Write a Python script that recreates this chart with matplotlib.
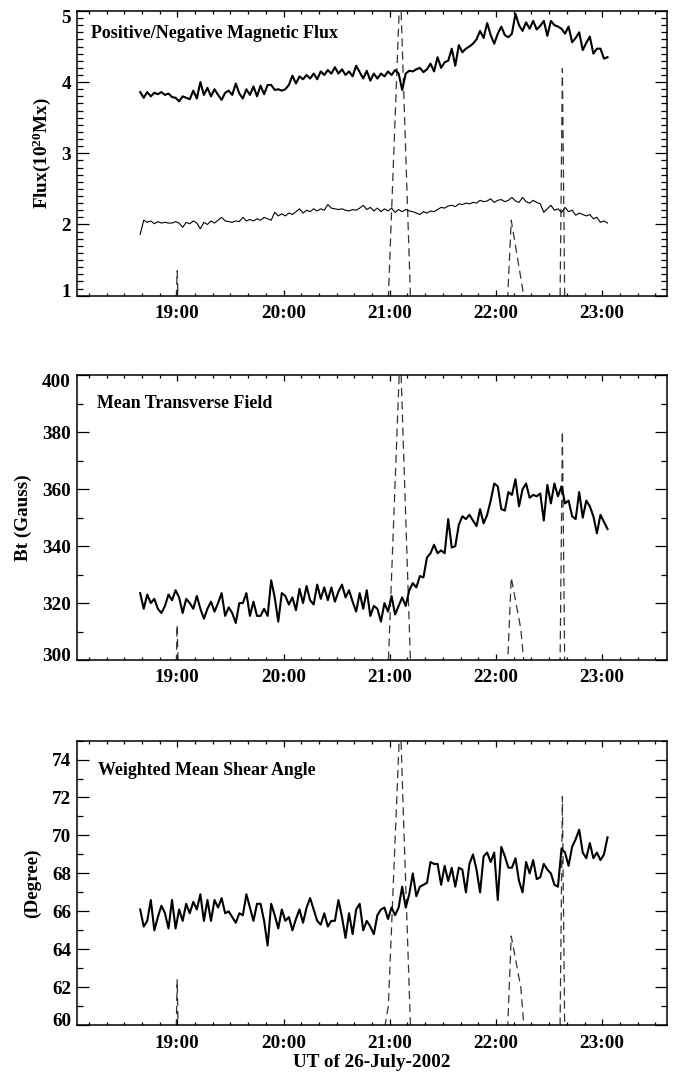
import numpy as np
import matplotlib
matplotlib.use('Agg')
import matplotlib.pyplot as plt
from matplotlib.ticker import MultipleLocator
from matplotlib.transforms import ScaledTranslation

plt.rcParams['font.family'] = ['Liberation Serif', 'DejaVu Serif']
plt.rcParams['font.weight'] = 'bold'
plt.rcParams['mathtext.fontset'] = 'custom'
plt.rcParams['mathtext.rm'] = 'Liberation Serif:bold'
plt.rcParams['mathtext.default'] = 'rm'

# time axis: minutes after 18:00 UT, one sample every 2 min starting 18:39
t_start, t_step = 39, 2

pos_flux = [
    3.86, 3.78, 3.86, 3.80, 3.85, 3.83, 3.86, 3.82, 3.84, 3.79,
    3.78, 3.73, 3.80, 3.78, 3.76, 3.88, 3.77, 4.00, 3.82, 3.92,
    3.80, 3.90, 3.82, 3.75, 3.85, 3.88, 3.82, 3.98, 3.84, 3.77,
    3.90, 3.82, 3.94, 3.80, 3.95, 3.83, 3.96, 3.96, 3.89, 3.90,
    3.88, 3.90, 3.96, 4.09, 3.98, 4.08, 4.04, 4.10, 4.05, 4.12,
    4.04, 4.15, 4.10, 4.17, 4.12, 4.21, 4.12, 4.18, 4.10, 4.15,
    4.08, 4.23, 4.14, 4.05, 4.16, 4.02, 4.12, 4.05, 4.12, 4.08,
    4.15, 4.10, 4.17, 4.12, 3.89, 4.12, 4.16, 4.15, 4.18, 4.20,
    4.14, 4.18, 4.26, 4.15, 4.35, 4.20, 4.28, 4.30, 4.47, 4.23,
    4.52, 4.42, 4.47, 4.50, 4.54, 4.60, 4.72, 4.62, 4.83, 4.66,
    4.54, 4.68, 4.78, 4.66, 4.63, 4.68, 4.96, 4.80, 4.72, 4.84,
    4.75, 4.86, 4.74, 4.79, 4.86, 4.65, 4.86, 4.80, 4.78, 4.75,
    4.68, 4.78, 4.56, 4.62, 4.70, 4.45, 4.55, 4.64, 4.40, 4.47,
    4.47, 4.33, 4.35]

neg_flux = [
    1.86, 2.06, 2.03, 2.05, 2.01, 2.04, 2.02, 2.03, 2.02, 2.02,
    2.04, 2.02, 1.96, 2.03, 2.01, 2.05, 2.02, 1.94, 2.03, 2.00,
    2.05, 2.02, 2.06, 2.10, 2.05, 2.04, 2.03, 2.05, 2.04, 2.10,
    2.05, 2.07, 2.05, 2.08, 2.06, 2.10, 2.08, 2.06, 2.17, 2.12,
    2.15, 2.12, 2.16, 2.14, 2.18, 2.22, 2.16, 2.20, 2.18, 2.22,
    2.19, 2.22, 2.20, 2.28, 2.23, 2.22, 2.21, 2.22, 2.20, 2.19,
    2.21, 2.20, 2.23, 2.27, 2.21, 2.24, 2.19, 2.23, 2.18, 2.22,
    2.19, 2.23, 2.17, 2.21, 2.18, 2.21, 2.19, 2.18, 2.16, 2.14,
    2.18, 2.16, 2.19, 2.18, 2.21, 2.24, 2.23, 2.26, 2.27, 2.25,
    2.29, 2.28, 2.30, 2.29, 2.31, 2.30, 2.34, 2.32, 2.33, 2.36,
    2.31, 2.34, 2.35, 2.32, 2.34, 2.38, 2.33, 2.31, 2.38, 2.32,
    2.30, 2.34, 2.31, 2.29, 2.17, 2.22, 2.27, 2.20, 2.22, 2.17,
    2.24, 2.18, 2.20, 2.13, 2.16, 2.14, 2.12, 2.14, 2.08, 2.10,
    2.03, 2.05, 2.02]

bt = [
    323.5, 318, 323, 320, 321.5, 318, 316.5, 319, 323, 321,
    324.5, 322, 316.5, 321.5, 320, 318, 322.5, 318, 314.5, 318,
    320.5, 317, 320, 323.5, 315.5, 318.5, 316.5, 313, 320, 320,
    323.5, 315.5, 320.5, 315.5, 315.5, 318, 315.5, 328, 322, 313.5,
    323.5, 322.5, 319.5, 322, 317.5, 325, 320, 326, 321, 319.5,
    326.5, 321.5, 325.5, 321, 325.5, 320.5, 324, 326.5, 322, 324.5,
    320.5, 317, 323.5, 318, 324.5, 315.5, 319, 318, 313.5, 320,
    317, 322.5, 316, 319, 322, 319, 324.5, 327, 325.5, 329.5,
    329, 336, 337.5, 340.5, 337.5, 338.5, 337.5, 349.5, 339.5, 340,
    347.5, 350.5, 349.5, 351, 349, 347, 353, 348, 351, 356,
    362, 361, 353, 352.5, 359, 358, 363.5, 354, 360, 362,
    357, 358, 357.5, 358.5, 349, 361.5, 355, 362, 357.5, 361,
    355, 356, 350.5, 349.5, 359, 350, 356, 354, 350.5, 344.5,
    351, 348.5, 346]

shear = [
    66.1, 65.2, 65.5, 66.6, 65.0, 65.7, 66.3, 65.9, 65.1, 66.6,
    65.1, 66.1, 65.5, 66.4, 65.9, 66.5, 66.1, 66.9, 65.5, 66.6,
    65.5, 66.6, 66.2, 66.7, 65.9, 66.0, 65.7, 65.4, 65.9, 65.8,
    66.9, 66.2, 65.5, 66.4, 66.4, 65.5, 64.2, 66.4, 65.8, 65.1,
    66.1, 65.5, 65.7, 65.0, 65.6, 66.1, 65.4, 66.2, 66.7, 66.1,
    65.5, 65.3, 65.9, 65.2, 65.5, 65.5, 66.6, 65.7, 64.6, 65.9,
    64.8, 66.1, 66.4, 65.0, 65.5, 65.2, 64.8, 65.8, 66.1, 66.2,
    65.6, 66.2, 65.8, 66.2, 67.3, 66.2, 66.9, 68.0, 66.8, 67.3,
    67.4, 67.5, 68.6, 68.5, 68.5, 67.4, 68.4, 67.6, 68.3, 67.3,
    68.3, 68.2, 67.0, 68.5, 69.0, 68.2, 67.0, 68.9, 69.1, 68.6,
    69.1, 66.6, 69.4, 68.9, 68.3, 68.3, 68.8, 67.6, 67.0, 68.6,
    68.0, 68.7, 67.7, 67.8, 68.5, 68.2, 68.0, 67.4, 67.3, 69.3,
    69.1, 68.4, 69.4, 69.8, 70.3, 69.1, 68.8, 69.6, 68.8, 69.1,
    68.7, 69.0, 69.9]

# dashed light curve (minutes after 18:00), off scale below the axes between bursts
t_dash = [59.4, 59.9, 60.4, 177.2, 179.2, 185.9, 187.7, 191.7,
          246.6, 248.6, 254.0, 255.8, 276.2, 277.5, 278.8]
dash_flux = [0.97, 1.35, 0.97, 0.97, 0.98, 5.4, 4.0, 0.97,
             0.97, 2.06, 1.25, 0.97, 0.97, 4.19, 0.97]
dash_bt = [299, 312.4, 299, 299, 299.5, 410, 375, 299,
           299, 329, 311, 299, 299, 380.3, 299]
dash_shear = [59.9, 62.4, 59.9, 59.9, 61.05, 76.4, 71.05, 59.9,
              59.9, 64.7, 62.0, 59.9, 59.9, 72.05, 59.9]

x_ticks = [60, 120, 180, 240, 300]
x_tick_labels = ['19:00', '20:00', '21:00', '22:00', '23:00']
x_range = (3.5, 336.6)

t = t_start + t_step * np.arange(len(pos_flux))

fig = plt.figure(figsize=(6.73, 10.72), dpi=100)

L, W, H = 0.1149, 0.8762, 0.2656
ax1 = fig.add_axes([L, 0.7242, W, H])
ax2 = fig.add_axes([L, 0.3843, W, H])
ax3 = fig.add_axes([L, 0.0436, W, H])


def style(ax, ylim, major, minor):
    ax.set_xlim(*x_range)
    ax.set_ylim(*ylim)
    ax.set_xticks(x_ticks)
    ax.set_xticklabels(x_tick_labels)
    ax.xaxis.set_minor_locator(MultipleLocator(10))
    ax.yaxis.set_major_locator(MultipleLocator(major))
    ax.yaxis.set_minor_locator(MultipleLocator(minor))
    ax.tick_params(which='both', direction='in', top=True, right=True,
                   labelsize=13.8, width=0.9)
    ax.tick_params(axis='x', which='major', length=4.1, pad=6.8)
    ax.tick_params(axis='x', which='minor', length=2.1)
    ax.tick_params(axis='y', which='major', length=8.5, pad=4.5)
    ax.tick_params(axis='y', which='minor', length=4.2)
    for s in ax.spines.values():
        s.set_linewidth(1.1)


dash_kw = dict(color='#333333', lw=0.9, dashes=(6.5, 4))

ax1.plot(t_dash, dash_flux, **dash_kw)
ax1.plot(t, pos_flux, color='black', lw=1.5)
ax1.plot(t, neg_flux, color='black', lw=0.8)
style(ax1, (1, 5), 1, 0.1)
ax1.text(0.024, 0.921, 'Positive/Negative Magnetic Flux', transform=ax1.transAxes,
         ha='left', va='center', fontsize=12.9)

ax2.plot(t_dash, dash_bt, **dash_kw)
ax2.plot(t, bt, color='black', lw=1.5)
style(ax2, (300, 400), 20, 10)
ax2.text(0.033, 0.901, 'Mean Transverse Field', transform=ax2.transAxes,
         ha='left', va='center', fontsize=12.9)

ax3.plot(t_dash, dash_shear, **dash_kw)
ax3.plot(t, shear, color='black', lw=1.5)
style(ax3, (60, 75), 2, 1)
ax3.text(0.035, 0.895, 'Weighted Mean Shear Angle', transform=ax3.transAxes,
         ha='left', va='center', fontsize=12.9)

fig.text(0.0621, 0.8573, r'Flux(10$^{20}$Mx)', rotation=90, ha='center', va='center', fontsize=13.8)
fig.text(0.0351, 0.5173, 'Bt (Gauss)', rotation=90, ha='center', va='center', fontsize=13.8)
fig.text(0.0478, 0.1763, '(Degree)', rotation=90, ha='center', va='center', fontsize=13.8)
fig.text(0.5527, 0.0084, 'UT of 26-July-2002', ha='center', va='center', fontsize=13.8)

# nudge the end y labels inside the frame, as in the original plot
fig.canvas.draw()
for ax in (ax1, ax2, ax3):
    y0, y1 = ax.get_ylim()
    for tick, loc in zip(ax.yaxis.get_major_ticks(), ax.yaxis.get_majorticklocs()):
        if np.isclose(loc, y1):
            shift = -0.055
        elif np.isclose(loc, y0):
            shift = 0.055
        else:
            continue
        tick.label1.set_transform(tick.label1.get_transform()
                                  + ScaledTranslation(0, shift, fig.dpi_scale_trans))

fig.savefig('out.png', dpi=100)
